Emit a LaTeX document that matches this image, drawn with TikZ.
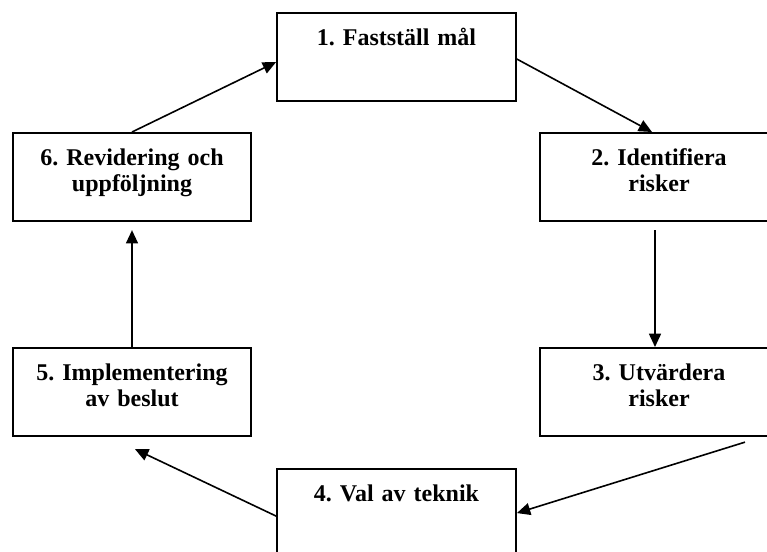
\documentclass[tikz,border=0pt]{standalone}
\usepackage{fontspec}
\setmainfont{Liberation Serif}
\usepackage{tikz}
\usetikzlibrary{arrows.meta, calc}

\begin{document}
\frenchspacing
\begin{tikzpicture}[
  x=0.75pt, y=-0.75pt,
  box/.style={rectangle, draw=black, line width=1.6pt, anchor=north,
              minimum width=179pt, inner sep=0pt, text width=172pt,
              align=center, text height=24pt, text depth=42pt,
              font=\fontsize{18pt}{19.5pt}\selectfont\bfseries},
  arrow/.style={-{Triangle[length=10pt, width=9pt]}, line width=1.2pt}
]
  \path[use as bounding box, clip] (0,0) rectangle (767,551);

  \node[box] (maal)  at (396.5, 12)  {1. Fastställ mål};
  \node[box] (ident) at (659, 132)   {2. Identifiera\\risker};
  \node[box] (utv)   at (659, 347)   {3. Utvärdera\\risker};
  \node[box] (val)   at (396.5, 468) {4. Val av teknik};
  \node[box] (impl)  at (132, 347)   {5. Implementering\\av beslut};
  \node[box] (rev)   at (132, 132)   {6. Revidering och\\uppföljning};

  \draw[arrow] ($(maal.east)+(0,2)$) -- ($(ident.north)+(-7,0)$);
  \draw[arrow] ($(ident.south)+(-4,8)$) -- ($(utv.north)+(-4,0)$);
  \draw[arrow] ($(utv.south)+(86,5)$) -- (val.east);
  \draw[arrow] ($(val.west)+(0,3)$) -- ($(impl.south)+(3,12)$);
  \draw[arrow] (impl.north) -- ($(rev.south)+(0,8)$);
  \draw[arrow] (rev.north) -- ($(maal.west)+(0,5)$);
\end{tikzpicture}
\end{document}
